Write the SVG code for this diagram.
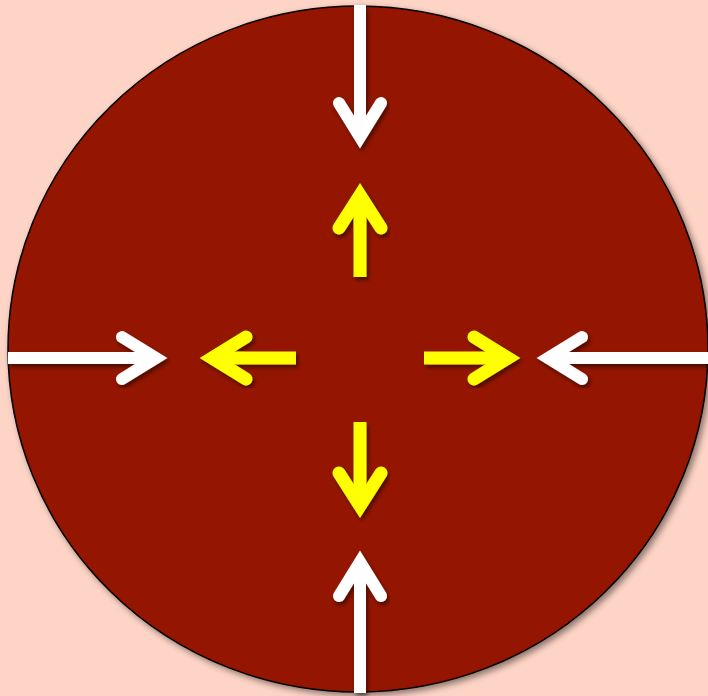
<svg xmlns="http://www.w3.org/2000/svg" width="708" height="696" viewBox="0 0 708 696">
  <defs>
    <filter id="sh" x="-20%" y="-20%" width="140%" height="140%">
      <feDropShadow dx="2" dy="3" stdDeviation="2" flood-color="#000" flood-opacity="0.5"/>
    </filter>
    <filter id="shd" x="-5%" y="-5%" width="110%" height="110%">
      <feDropShadow dx="3" dy="3" stdDeviation="3" flood-color="#000" flood-opacity="0.45"/>
    </filter>
  </defs>
  <style>
    .shaft { fill: none; stroke-linecap: butt; }
    .head { fill: none; stroke-linecap: round; stroke-linejoin: miter; stroke-miterlimit: 6; }
    .w { stroke: #FFFFFF; stroke-width: 12; }
    .y { stroke: #FFFF00; stroke-width: 13; }
  </style>
  <rect x="0" y="0" width="708" height="696" fill="#FDD4C5"/>
  <g id="disc">
    <ellipse cx="358" cy="349" rx="350" ry="343" fill="#941200" stroke="#000" stroke-width="1.5" filter="url(#shd)"/>
  </g>
  <g id="connectors">
    <g id="white-top" filter="url(#sh)">
      <path class="shaft w" d="M360 5 V138"/>
      <path class="head w" d="M339 103 L360 137 L381 103"/>
    </g>
    <g id="white-bottom" filter="url(#sh)">
      <path class="shaft w" d="M360 693 V561"/>
      <path class="head w" d="M339 596 L360 562 L381 596"/>
    </g>
    <g id="white-left" filter="url(#sh)">
      <path class="shaft w" d="M8 358 H157"/>
      <path class="head w" d="M122 337 L156 358 L122 379"/>
    </g>
    <g id="white-right" filter="url(#sh)">
      <path class="shaft w" d="M708 358 H547"/>
      <path class="head w" d="M582 337 L548 358 L582 379"/>
    </g>
    <g id="yellow-up" filter="url(#sh)">
      <path class="shaft y" d="M360 277 V194"/>
      <path class="head y" d="M339 228 L360 195 L381 228"/>
    </g>
    <g id="yellow-down" filter="url(#sh)">
      <path class="shaft y" d="M360 422 V507"/>
      <path class="head y" d="M339 473 L360 506 L381 473"/>
    </g>
    <g id="yellow-left" filter="url(#sh)">
      <path class="shaft y" d="M296 358 H211"/>
      <path class="head y" d="M246 337 L212 358 L246 379"/>
    </g>
    <g id="yellow-right" filter="url(#sh)">
      <path class="shaft y" d="M424 358 H509"/>
      <path class="head y" d="M474 337 L508 358 L474 379"/>
    </g>
  </g>
</svg>
